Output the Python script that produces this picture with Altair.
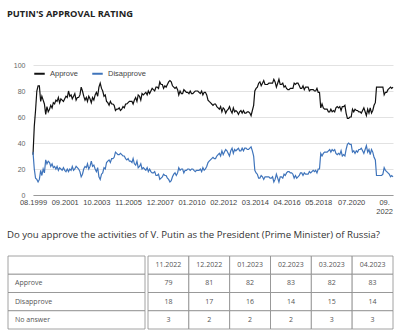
import altair as alt
import pandas as pd

title_text = "PUTIN'S APPROVAL RATING"
question_text = "Do you approve the activities of V. Putin as the President (Prime Minister) of Russia?"

# Monthly series starting 08.1999, ending 04.2023
approve = (
    [31, 53, 65, 80, 84]
    + [84, 72, 76, 73, 70, 62, 68, 64, 66, 69, 67, 71]
    + [70, 73, 72, 75, 71, 74, 73, 72, 74, 76, 75, 80]
    + [76, 77, 74, 76, 78, 73, 75, 75, 77, 83, 80, 76]
    + [73, 75, 72, 76, 74, 71, 75, 73, 77, 79, 76, 83]
    + [86, 82, 80, 76, 77, 72, 71, 69, 72, 70, 70, 69]
    + [65, 66, 66, 67, 65, 66, 68, 67, 70, 70, 71, 72]
    + [72, 72, 70, 73, 75, 72, 77, 76, 73, 78, 77, 78]
    + [79, 77, 80, 78, 80, 82, 81, 80, 83, 83, 82, 87]
    + [85, 85, 82, 84, 83, 85, 87, 88, 87, 84, 83, 82]
    + [83, 81, 77, 80, 78, 78, 81, 80, 79, 79, 78, 80]
    + [78, 78, 79, 80, 80, 80, 79, 78, 80, 77, 79, 79]
    + [77, 73, 72, 71, 70, 69, 70, 70, 68, 67, 66, 68]
    + [64, 67, 66, 63, 65, 66, 68, 65, 63, 67, 64, 65]
    + [64, 62, 64, 65, 63, 65, 63, 63, 64, 64, 63, 61]
    + [65, 69, 80, 82, 83, 86, 87, 84, 86, 88, 85, 85]
    + [85, 86, 86, 86, 86, 89, 87, 83, 86, 89, 85, 85]
    + [86, 83, 84, 82, 81, 81, 82, 82, 82, 86, 85, 86]
    + [86, 84, 82, 82, 84, 81, 83, 83, 83, 80, 81, 81]
    + [81, 80, 80, 82, 79, 79, 67, 70, 67, 66, 66, 66]
    + [64, 64, 66, 64, 65, 64, 67, 68, 67, 68, 65, 68]
    + [68, 69, 63, 59, 59, 60, 60, 66, 64, 66, 65, 65]
    + [64, 64, 63, 65, 67, 64, 61, 66, 63, 67, 63, 65]
    + [69, 71, 83, 83, 83, 83, 83, 83, 77, 79, 79, 81]
    + [82, 83, 82, 83]
)
disapprove = (
    [33, 20, 13, 12, 10]
    + [12, 19, 15, 20, 17, 27, 24, 26, 25, 22, 24, 21]
    + [22, 20, 22, 19, 21, 20, 19, 21, 19, 18, 20, 18]
    + [20, 19, 22, 19, 20, 22, 21, 20, 18, 14, 16, 20]
    + [22, 21, 24, 20, 22, 26, 22, 23, 20, 18, 21, 14]
    + [12, 16, 17, 21, 20, 25, 26, 27, 25, 28, 28, 29]
    + [33, 32, 31, 31, 32, 31, 30, 30, 28, 27, 28, 26]
    + [26, 25, 28, 24, 23, 26, 21, 22, 24, 20, 21, 20]
    + [19, 21, 18, 20, 18, 17, 17, 18, 15, 15, 16, 12]
    + [13, 14, 16, 15, 15, 13, 12, 10, 11, 14, 16, 17]
    + [15, 17, 21, 19, 20, 20, 17, 19, 19, 20, 20, 19]
    + [20, 20, 19, 18, 19, 19, 19, 20, 18, 21, 19, 20]
    + [22, 25, 26, 27, 28, 29, 28, 28, 30, 31, 32, 30]
    + [34, 31, 33, 35, 34, 32, 30, 34, 36, 32, 35, 34]
    + [35, 36, 34, 34, 36, 34, 36, 36, 35, 35, 36, 37]
    + [34, 30, 19, 17, 16, 13, 13, 15, 14, 12, 14, 14]
    + [14, 14, 13, 13, 14, 10, 12, 16, 13, 10, 14, 14]
    + [13, 16, 15, 17, 18, 18, 17, 17, 16, 13, 15, 13]
    + [14, 15, 17, 17, 15, 17, 16, 16, 16, 18, 17, 18]
    + [19, 18, 19, 17, 20, 20, 32, 30, 32, 33, 33, 33]
    + [34, 35, 33, 35, 34, 35, 32, 31, 32, 31, 34, 30]
    + [31, 30, 35, 39, 40, 39, 39, 33, 34, 32, 34, 33]
    + [35, 35, 36, 34, 32, 35, 38, 33, 35, 31, 35, 33]
    + [29, 27, 15, 15, 15, 15, 15, 16, 21, 19, 18, 17]
    + [16, 14, 15, 14]
)
series_names = ["Approve", "Disapprove"]
x_tick_months = [(1999, 8), (2001, 9), (2003, 10), (2005, 11), (2007, 12), (2010, 1),
                 (2012, 2), (2014, 3), (2016, 4), (2018, 5), (2020, 7), (2022, 9)]
y_ticks = [0, 20, 40, 60, 80, 100]

table_months = ["11.2022", "12.2022", "01.2023", "02.2023", "03.2023", "04.2023"]
table_rows = ["Approve", "Disapprove", "No answer"]
table_approve = [79, 81, 82, 83, 82, 83]
table_disapprove = [18, 17, 16, 14, 15, 14]
table_noanswer = [3, 2, 2, 2, 3, 3]

# ---------- data frames ----------
n = len(approve)
dates = pd.date_range(start="1999-08-01", periods=n, freq="MS")
lines_df = pd.DataFrame({
    "date": list(dates) * 2,
    "value": approve + disapprove,
    "series": [series_names[0]] * n + [series_names[1]] * n,
})

def dt(y, m):
    return alt.DateTime(year=y, month=m, date=1)

x_enc = alt.X(
    "date:T",
    scale=alt.Scale(domain=[dt(1999, 8), dt(2023, 4)], nice=False),
    axis=alt.Axis(
        values=[dt(y, m) for y, m in x_tick_months], format="%m.%Y", formatType="time",
        labelExpr="datum.label == '09.2022' ? ['09.', '2022'] : datum.label",
        title=None, grid=False, ticks=False, domainColor="#9a9a9a",
        labelFont="Liberation Sans", labelFontSize=7.5, labelColor="#444",
        labelPadding=3, labelOverlap=False, labelFlush=False,
    ),
)
y_enc = alt.Y(
    "value:Q",
    scale=alt.Scale(domain=[0, 100], nice=False),
    axis=alt.Axis(values=y_ticks, title=None, ticks=False, domain=False,
                  gridColor="#e2e2e2", labelFont="Liberation Sans", labelFontSize=7,
                  labelColor="#666", labelPadding=8),
)
lines = alt.Chart(lines_df).mark_line(strokeWidth=1.2).encode(
    x=x_enc, y=y_enc,
    color=alt.Color(
        "series:N",
        scale=alt.Scale(domain=series_names, range=["#111111", "#3f74bb"]),
        legend=alt.Legend(orient="none", legendX=0, legendY=2, direction="horizontal",
                          title=None, symbolType="stroke", symbolStrokeWidth=2,
                          symbolSize=110, labelFont="Liberation Sans", labelFontSize=7.5,
                          labelColor="#444", labelOffset=4, columnPadding=10),
    ),
)

title_layer = alt.Chart(pd.DataFrame({"t": [title_text]})).mark_text(
    align="left", baseline="middle", font="Open Sans", fontWeight="bold",
    fontSize=9.3, color="#222",
).encode(x=alt.value(-26), y=alt.value(-51), text="t:N")

question_layer = alt.Chart(pd.DataFrame({"t": [question_text]})).mark_text(
    align="left", baseline="middle", font="Open Sans", fontSize=9.6, color="#333",
).encode(x=alt.value(-26), y=alt.value(170), text="t:N")

# ---------- table ----------
row_domain = ["hdr"] + table_rows
cells = []
for i, m in enumerate(table_months):
    cells.append({"row": "hdr", "col": m, "txt": m})
    cells.append({"row": table_rows[0], "col": m, "txt": str(table_approve[i])})
    cells.append({"row": table_rows[1], "col": m, "txt": str(table_disapprove[i])})
    cells.append({"row": table_rows[2], "col": m, "txt": str(table_noanswer[i])})
cells_df = pd.DataFrame(cells)
rows_df = pd.DataFrame({"row": row_domain, "label": [""] + table_rows})

ty = alt.Y("row:N", scale=alt.Scale(domain=row_domain, range=[191, 264],
                                     paddingInner=0, paddingOuter=0), axis=None)
tx = alt.X("col:N", scale=alt.Scale(domain=table_months, range=[115, 360],
                                     paddingInner=0, paddingOuter=0), axis=None)

label_rects = alt.Chart(rows_df).mark_rect(fill="white", stroke="#8a8a8a", strokeWidth=0.8).encode(
    x=alt.value(-25), x2=alt.value(112), y=ty)
cell_rects = alt.Chart(cells_df).mark_rect(fill="white", stroke="#8a8a8a", strokeWidth=0.8).encode(
    x=tx, y=ty)
cell_text = alt.Chart(cells_df).mark_text(
    font="Open Sans", fontSize=7, color="#555", baseline="middle").encode(
    x=tx, y=ty, text="txt:N")
row_text = alt.Chart(rows_df).mark_text(
    font="Open Sans", fontSize=7, color="#555", align="left", baseline="middle").encode(
    x=alt.value(-18), y=ty, text="label:N")

chart = alt.layer(
    lines, title_layer, question_layer, label_rects, cell_rects, cell_text, row_text
).resolve_scale(x="independent", y="independent").properties(
    width=360, height=130,
    autosize=alt.AutoSizeParams(type="none"),
    padding={"left": 33, "top": 65, "right": 6, "bottom": 141},
    background="white",
).configure_view(stroke=None)

chart.save("out.html", embed_options={"renderer": "svg", "actions": False})
